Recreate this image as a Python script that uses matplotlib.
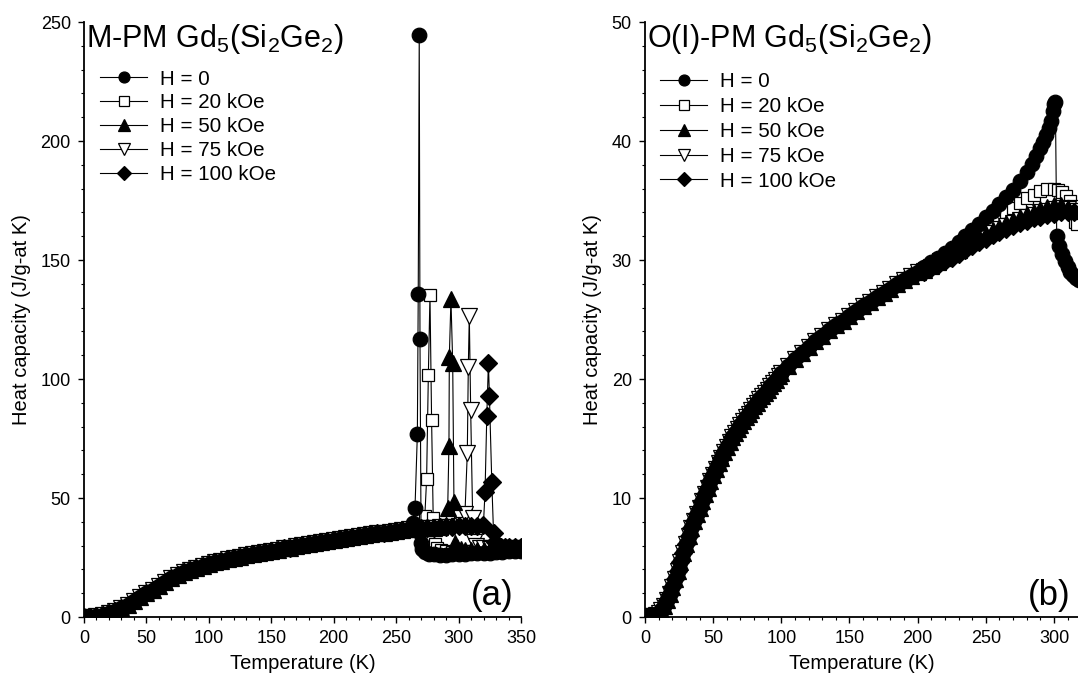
import matplotlib
matplotlib.use('Agg')
import matplotlib.pyplot as plt
from matplotlib.ticker import MultipleLocator

plt.rcParams['font.family'] = ['Liberation Sans', 'DejaVu Sans']
plt.rcParams['mathtext.fontset'] = 'custom'
plt.rcParams['mathtext.rm'] = 'Liberation Sans'
plt.rcParams['mathtext.it'] = 'Liberation Sans:italic'
plt.rcParams['mathtext.bf'] = 'Liberation Sans:bold'

################################################################################
# Daten

labels = ['H = 0', 'H = 20 kOe', 'H = 50 kOe', 'H = 75 kOe', 'H = 100 kOe']

# (a) M-PM, gemeinsamer Tieftemperaturteil 0..260 K
temp_a = [0, 5, 10, 15, 20, 25, 30, 35, 40, 45, 50, 55, 60, 65, 70, 75, 80, 85, 90, 95,
          100, 105, 110, 115, 120, 125, 130, 135, 140, 145, 150, 155, 160, 165, 170, 175,
          180, 185, 190, 195, 200, 205, 210, 215, 220, 225, 230, 235, 240, 245, 250, 255, 260]
cp_a = [0.0, 0.1, 0.3, 0.8, 1.5, 2.5, 3.8, 5.2, 6.7, 8.3, 9.9, 11.5, 13.1, 14.7, 16.3, 17.7,
        18.9, 19.9, 20.8, 21.6, 22.4, 23.1, 23.7, 24.3, 24.9, 25.4, 25.9, 26.4, 26.9, 27.4,
        27.9, 28.3, 28.8, 29.2, 29.7, 30.1, 30.6, 31.0, 31.4, 31.9, 32.3, 32.7, 33.1, 33.5,
        33.9, 34.3, 34.7, 35.1, 35.5, 35.9, 36.3, 36.6, 36.9]
# FM-Ast oberhalb 260 K
fm_temp_a = [265, 270, 275, 280, 285, 290, 295, 300, 305, 310, 315]
fm_cp_a = [37.1, 37.3, 37.5, 37.6, 37.8, 37.9, 38.0, 38.1, 38.2, 38.3, 38.4]

# Peaks + PM-Ast
h0_temp_a = [263.2, 265.1, 267.0, 267.7, 268.5, 269.1, 270, 271, 273, 276, 280, 285, 290, 295,
             300, 305, 310, 315, 320, 325, 330, 335, 340, 345, 350]
h0_cp_a = [39.7, 45.7, 76.8, 135.7, 244.6, 116.7, 31.0, 28.5, 27.3, 26.6, 26.3, 26.2, 26.2,
           26.3, 26.4, 26.5, 26.7, 26.8, 27.0, 27.1, 27.3, 27.4, 27.6, 27.7, 27.9]
h20_temp_a = [271.7, 273.0, 274.4, 275.8, 277.1, 278.4, 279.7, 281, 283, 286, 290, 295, 300,
              305, 310, 315, 320, 325, 330, 335, 340, 345, 350]
h20_cp_a = [38.8, 42.6, 57.8, 101.7, 135.3, 82.8, 41.4, 30.5, 28.8, 28.0, 27.6, 27.5, 27.5,
            27.6, 27.7, 27.8, 27.9, 28.0, 28.1, 28.2, 28.3, 28.4, 28.5]
h50_temp_a = [289.7, 291.3, 292.3, 292.6, 293.9, 295.3, 296.3, 297.5, 299, 302, 305, 310, 315,
              320, 325, 330, 335, 340, 345, 350]
h50_cp_a = [38.8, 45.8, 72.0, 109.4, 133.5, 106.8, 48.3, 31.0, 29.3, 28.6, 28.3, 28.2, 28.2,
            28.3, 28.4, 28.5, 28.6, 28.7, 28.8, 28.9]
h75_temp_a = [303.8, 305.1, 307.0, 307.8, 308.6, 309.7, 311.3, 312.5, 314, 317, 320, 325, 330,
              335, 340, 345, 350]
h75_cp_a = [38.8, 43.3, 69.0, 105.1, 126.6, 87.0, 41.4, 31.5, 29.8, 29.0, 28.8, 28.7, 28.8,
            28.9, 29.0, 29.1, 29.2]
h100_temp_a = [319.9, 321.2, 322.6, 323.9, 324.7, 326.6, 328.0, 329.5, 331, 334, 337, 340, 345, 350]
h100_cp_a = [38.8, 52.6, 84.4, 106.8, 93.0, 56.9, 35.4, 31.5, 30.2, 29.6, 29.4, 29.3, 29.3, 29.4]

# (b) O(I)-PM, gemeinsamer Teil 0..200 K
temp_b = [0, 2, 4, 6, 8, 10, 12, 14, 16, 18, 20, 22, 24, 26, 28, 30, 32, 34, 36, 38, 40, 42,
          44, 46, 48, 50, 52, 54, 56, 58, 60, 62, 64, 66, 68, 70, 72, 74, 76, 78, 80, 82, 84,
          86, 88, 90, 92, 94, 96, 98, 100, 105, 110, 115, 120, 125, 130, 135, 140, 145, 150,
          155, 160, 165, 170, 175, 180, 185, 190, 195, 200]
cp_b = [0.0, 0.02, 0.05, 0.1, 0.2, 0.35, 0.6, 0.95, 1.4, 1.95, 2.55, 3.2, 3.9, 4.6, 5.35,
        6.1, 6.8, 7.45, 8.05, 8.65, 9.2, 9.75, 10.3, 10.85, 11.4, 11.95, 12.45, 12.95, 13.4,
        13.85, 14.3, 14.7, 15.1, 15.45, 15.8, 16.15, 16.5, 16.8, 17.1, 17.4, 17.7, 18.0, 18.3,
        18.6, 18.85, 19.1, 19.4, 19.7, 19.95, 20.25, 20.5, 21.1, 21.65, 22.2, 22.7, 23.2,
        23.65, 24.1, 24.5, 24.9, 25.3, 25.7, 26.1, 26.5, 26.9, 27.25, 27.6, 27.95, 28.3,
        28.65, 29.0]

h0_temp_b = [205, 210, 215, 220, 225, 230, 235, 240, 245, 250, 255, 260, 265, 270, 275, 280,
             284, 287, 290, 292, 294, 296, 297.5, 299, 300, 301, 302, 304, 306, 308, 310, 312,
             314, 316, 318]
h0_cp_b = [29.4, 29.8, 30.2, 30.6, 31.0, 31.5, 32.0, 32.5, 33.0, 33.6, 34.1, 34.7, 35.3, 35.9,
           36.6, 37.4, 38.1, 38.7, 39.4, 39.9, 40.5, 41.1, 41.7, 42.5, 43.1, 43.3, 32.0, 31.2,
           30.5, 29.9, 29.4, 29.0, 28.7, 28.5, 28.3]
h20_temp_b = [205, 210, 215, 220, 225, 230, 235, 240, 245, 250, 255, 260, 265, 270, 275, 280,
              285, 290, 295, 300, 303, 306, 309, 312, 314, 315.5, 317]
h20_cp_b = [29.35, 29.7, 30.05, 30.4, 30.8, 31.2, 31.6, 32.0, 32.4, 32.8, 33.2, 33.6, 34.0,
            34.4, 34.8, 35.2, 35.5, 35.8, 35.95, 36.0, 35.9, 35.7, 35.4, 35.0, 34.5, 33.2, 33.0]
hi_temp_b = [205, 210, 215, 220, 225, 230, 235, 240, 245, 250, 255, 260, 265, 270, 275, 280,
             285, 290, 295, 300, 305, 310, 315]
h50_cp_b = [29.2, 29.5, 29.8, 30.15, 30.5, 30.85, 31.2, 31.55, 31.9, 32.2, 32.5, 32.8, 33.1,
            33.35, 33.6, 33.85, 34.05, 34.25, 34.45, 34.6, 34.6, 34.4, 34.1]
h75_cp_b = [29.1, 29.4, 29.7, 30.0, 30.35, 30.7, 31.05, 31.4, 31.7, 32.0, 32.3, 32.6, 32.85,
            33.1, 33.35, 33.6, 33.8, 34.0, 34.15, 34.3, 34.35, 34.3, 34.1]
h100_cp_b = [29.0, 29.3, 29.6, 29.9, 30.2, 30.5, 30.85, 31.2, 31.5, 31.8, 32.1, 32.35, 32.6,
             32.85, 33.1, 33.3, 33.5, 33.65, 33.8, 33.9, 34.0, 34.0, 34.0]

################################################################################
# Serien zusammensetzen

peaks_a = [(h0_temp_a, h0_cp_a), (h20_temp_a, h20_cp_a), (h50_temp_a, h50_cp_a),
           (h75_temp_a, h75_cp_a), (h100_temp_a, h100_cp_a)]
series_a = []
for t_hi, c_hi in peaks_a:
    t_fm = [t for t in fm_temp_a if t < t_hi[0]]
    c_fm = fm_cp_a[:len(t_fm)]
    series_a.append((temp_a + t_fm + t_hi, cp_a + c_fm + c_hi))

series_b = [(temp_b + h0_temp_b, cp_b + h0_cp_b),
            (temp_b + h20_temp_b, cp_b + h20_cp_b),
            (temp_b + hi_temp_b, cp_b + h50_cp_b),
            (temp_b + hi_temp_b, cp_b + h75_cp_b),
            (temp_b + hi_temp_b, cp_b + h100_cp_b)]

markers = ['o', 's', '^', 'v', 'D']
faces = ['black', 'white', 'black', 'white', 'black']
msizes = [10.5, 9, 11, 11, 9.5]
# gefuellte Symbole oben, damit das Band schwarz bleibt
zorders = [3, 2, 3, 2, 3]

################################################################################
# Grafik

fig = plt.figure(figsize=(10.78, 6.82), dpi=100)
ax1 = fig.add_axes([0.0779, 0.0953, 0.4054, 0.8724])
ax2 = fig.add_axes([0.5983, 0.0953, 0.4017, 0.8724])


def draw_panel(ax, series, ymax, ymajor, yminor, xmax, title, tag, leg_pos, leg_sp):
    for (t, c), m, fc, ms, z, lab in zip(series, markers, faces, msizes, zorders, labels):
        ax.plot(t, c, color='black', lw=0.8, marker=m, markersize=ms, markerfacecolor=fc,
                markeredgecolor='black', markeredgewidth=0.9, zorder=z, label=lab)
    ax.set_xlim(0, xmax)
    ax.set_ylim(0, ymax)
    ax.xaxis.set_major_locator(MultipleLocator(50))
    ax.xaxis.set_minor_locator(MultipleLocator(10))
    ax.yaxis.set_major_locator(MultipleLocator(ymajor))
    ax.yaxis.set_minor_locator(MultipleLocator(yminor))
    ax.spines['top'].set_visible(False)
    ax.spines['right'].set_visible(False)
    ax.spines['left'].set_linewidth(1.3)
    ax.spines['bottom'].set_linewidth(1.3)
    ax.tick_params(which='major', direction='out', length=4.5, width=1, labelsize=13, pad=5)
    ax.tick_params(which='minor', direction='out', length=2.2, width=0.8)
    ax.set_xlabel('Temperature (K)', fontsize=14.5, labelpad=5)
    ax.set_ylabel('Heat capacity (J/g-at K)', fontsize=14.5, labelpad=7)
    ax.text(0.004, 0.958, title, transform=ax.transAxes, fontsize=22, ha='left', va='baseline')
    ax.text(0.983, 0.02, tag, transform=ax.transAxes, fontsize=25, ha='right', va='baseline')
    ax.legend(loc='upper left', bbox_to_anchor=leg_pos, borderaxespad=0, frameon=False,
              fontsize=14.8, handlelength=2.3, handletextpad=0.6, labelspacing=leg_sp,
              markerscale=0.75)


draw_panel(ax1, series_a, 250, 50, 10, 350, r'M-PM Gd$_5$(Si$_2$Ge$_2$)', '(a)',
           (0.018, 0.934), 0.24)
draw_panel(ax2, series_b, 50, 10, 2, 317.6, r'O(I)-PM Gd$_5$(Si$_2$Ge$_2$)', '(b)',
           (0.016, 0.929), 0.28)

fig.savefig('out.png', dpi=100)
